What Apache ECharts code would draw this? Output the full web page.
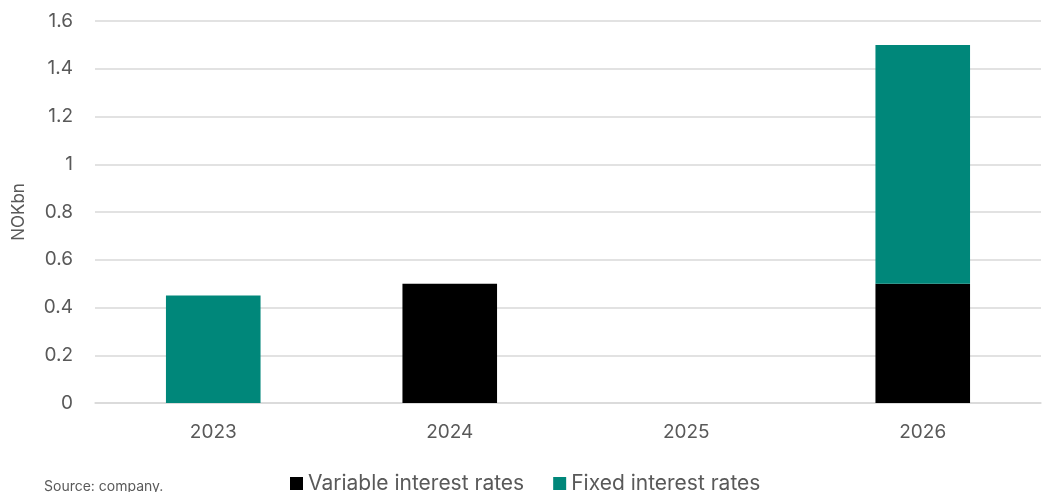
<!DOCTYPE html>
<html><head><meta charset="utf-8">
<script src="https://cdn.jsdelivr.net/npm/echarts@6/dist/echarts.min.js"></script>
<style>html,body{margin:0;padding:0;background:#fff}#c{width:1043px;height:492px}</style>
</head><body><div id="c"></div>
<script>
const categories = ['2023', '2024', '2025', '2026'];
const variableRates = [0, 0.5, 0, 0.5];
const fixedRates = [0.45, 0, 0, 1.0];
const yTicks = [0, 0.2, 0.4, 0.6, 0.8, 1, 1.2, 1.4, 1.6];

const chart = echarts.init(document.getElementById('c'));
const font = 'Inter, Roboto, "Noto Sans", sans-serif';
chart.setOption({
  animation: false,
  textStyle: { fontFamily: font },
  grid: { left: 95, right: 2, top: 21, bottom: 89 },
  legend: {
    top: 468, left: 285, padding: 5, icon: 'rect', itemWidth: 13, itemHeight: 13, itemGap: 29,
    textStyle: { fontSize: 21, color: '#595959', fontFamily: font },
    data: ['Variable interest rates', 'Fixed interest rates']
  },
  graphic: [{ type: 'text', left: 44, top: 480, style: { text: 'Source: company.', fontSize: 14, fill: '#595959', fontFamily: font } }],
  xAxis: {
    type: 'category', data: categories,
    axisLine: { lineStyle: { color: '#d9d9d9', width: 1.5 } },
    axisTick: { show: false },
    axisLabel: { fontSize: 19, color: '#595959', margin: 20 }
  },
  yAxis: {
    type: 'value', min: 0, max: 1.6, interval: 0.2,
    name: 'NOKbn', nameLocation: 'middle', nameGap: 68, nameRotate: 90,
    nameTextStyle: { fontSize: 17, color: '#595959' },
    axisLabel: { fontSize: 19, color: '#595959', margin: 22,
      formatter: v => { const t = yTicks.find(x => Math.abs(x - v) < 1e-6); return t === undefined ? '' : String(t); } },
    splitLine: { lineStyle: { color: '#d9d9d9', width: 1.5 } },
    axisLine: { show: false }, axisTick: { show: false }
  },
  series: [
    { name: 'Variable interest rates', type: 'bar', stack: 's', data: variableRates, barWidth: '40%', itemStyle: { color: '#000000' } },
    { name: 'Fixed interest rates', type: 'bar', stack: 's', data: fixedRates, barWidth: '40%', itemStyle: { color: '#00877a' } }
  ]
});
</script></body></html>
